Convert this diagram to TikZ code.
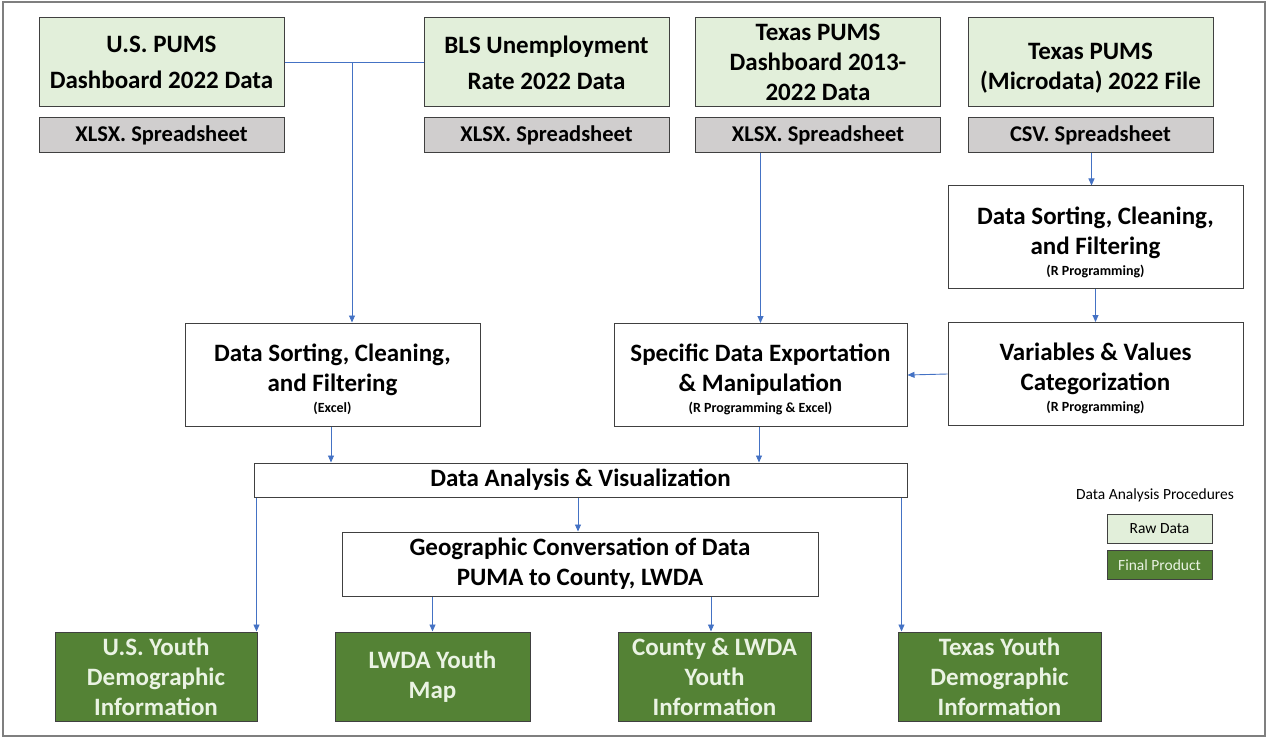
\documentclass[tikz,border=0pt]{standalone}
\usepackage{fontspec}
\setmainfont{Carlito}
\usetikzlibrary{arrows.meta,calc}
\definecolor{rawfill}{HTML}{E2EFDA}
\definecolor{finfill}{HTML}{548235}
\definecolor{finText}{HTML}{EAF3E3}
\definecolor{grayfill}{HTML}{D0CECE}
\definecolor{edge}{HTML}{404040}
\definecolor{arrowblue}{HTML}{4472C4}
\definecolor{frame}{HTML}{7F7F7F}
\begin{document}
\begin{tikzpicture}[x=1pt,y=-1pt,
  box/.style={draw=edge,line width=1pt,inner sep=0pt,align=center,font=\bfseries\fontsize{25}{30}\selectfont},
  rawbox/.style={box,fill=rawfill,minimum width=245pt,minimum height=89pt},
  graybox/.style={box,fill=grayfill,minimum width=245pt,minimum height=35pt,font=\bfseries\fontsize{22.5}{26}\selectfont},
  procbox/.style={box,fill=white,minimum width=295pt,minimum height=103pt},
  finbox/.style={box,fill=finfill,text=finText,minimum height=89pt},
  legbox/.style={draw=edge,line width=1pt,minimum width=105pt,minimum height=29pt,inner sep=0pt,font=\fontsize{15.5}{18}\selectfont},
  conn/.style={draw=arrowblue,line width=0.9pt},
  arr/.style={conn,-{Triangle[length=7pt,width=6pt]}}
]
\newcommand{\subnote}[1]{{\fontsize{14}{16}\selectfont #1}}
\newcommand{\toppad}{\rule{0pt}{27pt}}
\useasboundingbox (0,0) rectangle (1267,738);
\draw[frame,line width=1.2pt] (3,2) rectangle (1265,736);

% raw data sources
\node[rawbox,font=\bfseries\fontsize{25}{36}\selectfont] (src1) at (161.5,62.5) {U.S. PUMS\\Dashboard 2022 Data};
\node[rawbox,font=\bfseries\fontsize{25}{36}\selectfont] (src2) at (546.5,62.5) {BLS Unemployment\\Rate 2022 Data};
\node[rawbox] (src3) at (818,62.5) {Texas PUMS\\Dashboard 2013-\\2022 Data};
\node[rawbox] (src4) at (1090.5,62.5) {\rule{0pt}{28pt}Texas PUMS\\(Microdata) 2022 File};

\node[graybox] (g1) at (161.5,135.5) {XLSX. Spreadsheet};
\node[graybox] (g2) at (546.5,135.5) {XLSX. Spreadsheet};
\node[graybox] (g3) at (818,135.5) {XLSX. Spreadsheet};
\node[graybox] (g4) at (1090.5,135.5) {CSV. Spreadsheet};

% processing
\node[procbox] (dsx) at (332.5,374.5) {\toppad Data Sorting, Cleaning,\\and Filtering\\[-9pt]\subnote{(Excel)}};
\node[procbox,minimum width=293pt] (spec) at (760.5,375) {\toppad Specific Data Exportation\\\& Manipulation\\[-9pt]\subnote{(R Programming \& Excel)}};
\node[procbox] (dsr) at (1095.5,237.5) {\toppad Data Sorting, Cleaning,\\and Filtering\\[-9pt]\subnote{(R Programming)}};
\node[procbox] (var) at (1095.5,374) {\toppad Variables \& Values\\Categorization\\[-9pt]\subnote{(R Programming)}};

\node[box,fill=white,minimum width=653pt,minimum height=34pt] (da) at (580.5,480) {Data Analysis \& Visualization};
\node[box,fill=white,minimum width=476pt,minimum height=64pt] (geo) at (580,564) {Geographic Conversation of Data\\PUMA to County, LWDA};

% final products
\node[finbox,minimum width=202pt] (out1) at (156,676.5) {U.S. Youth\\Demographic\\Information};
\node[finbox,minimum width=195pt] (out2) at (432.5,676.5) {LWDA Youth\\Map};
\node[finbox,minimum width=193pt] (out3) at (714.5,676.5) {County \& LWDA\\Youth\\Information};
\node[finbox,minimum width=203pt] (out4) at (999.5,676.5) {Texas Youth\\Demographic\\Information};

% legend
\node[font=\fontsize{15.5}{18}\selectfont] (legt) at (1155,495) {Data Analysis Procedures};
\node[legbox,fill=rawfill] (legraw) at (1159.5,528.5) {Raw Data};
\node[legbox,fill=finfill,text=finText] (legfin) at (1159.5,565) {Final Product};

% connectors
\coordinate (j1) at (352,62.5);
\draw[conn] (src1.east) -- (src2.west);
\draw[arr] (j1) -- (j1 |- dsx.north);
\draw[arr] (spec.north |- g3.south) -- (spec.north);
\draw[arr] ([xshift=-4pt]dsr.north |- g4.south) -- ([xshift=-4pt]dsr.north);
\draw[arr] (dsr.south) -- (var.north);
\draw[arr] (var.west) -- (spec.east);
\draw[arr] ([xshift=-1.5pt]dsx.south) -- ([xshift=-1.5pt]dsx.south |- da.north);
\draw[arr] ([xshift=-1.5pt]spec.south) -- ([xshift=-1.5pt]spec.south |- da.north);
\draw[arr] ([xshift=-2.5pt]da.south) -- ([xshift=-2.5pt]da.south |- geo.north);
\draw[arr] ([xshift=-1pt]out1.north east |- da.south) -- ([xshift=-1pt]out1.north east);
\draw[arr] ([xshift=4pt]out4.north west |- da.south) -- ([xshift=4pt]out4.north west);
\draw[arr] (out2.north |- geo.south) -- (out2.north);
\draw[arr] ([xshift=-3.5pt]out3.north |- geo.south) -- ([xshift=-3.5pt]out3.north);
\end{tikzpicture}
\end{document}
